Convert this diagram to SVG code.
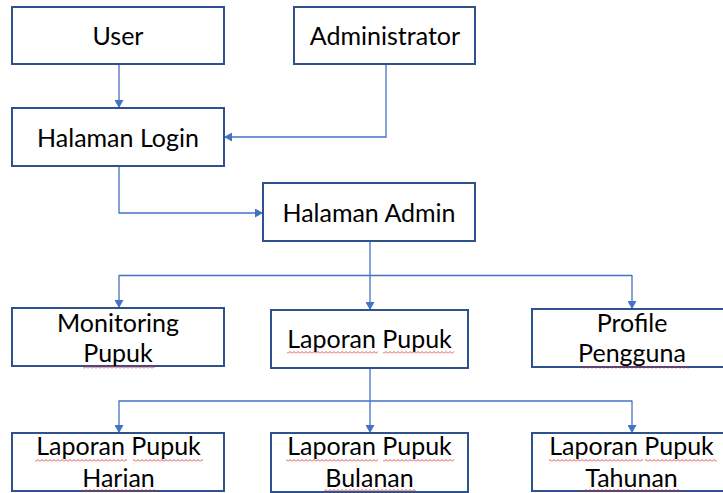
<svg xmlns="http://www.w3.org/2000/svg" width="723" height="493" viewBox="0 0 723 493">
  <style>
    .box { fill: #ffffff; stroke: #2f528f; stroke-width: 2; }
    .lbl { font-family: Lato, "Liberation Sans", sans-serif; font-size: 25px; fill: #000000; text-anchor: middle; }
    .wire { fill: none; stroke: #4472c4; stroke-width: 1.3; }
    .spell { fill: url(#squiggle); }
  </style>
  <defs>
    <marker id="arrow" markerUnits="userSpaceOnUse" markerWidth="8" markerHeight="9" refX="8" refY="4.5" orient="auto">
      <path d="M0,0 L8,4.5 L0,9 z" fill="#4472c4"/>
    </marker>
    <!-- red wavy spell-check underline -->
    <pattern id="squiggle" patternUnits="userSpaceOnUse" width="4" height="3">
      <path d="M0,2.5 L2,0.5 L4,2.5" fill="none" stroke="#e02020" stroke-width="0.8"/>
    </pattern>
  </defs>

  <rect width="723" height="493" fill="#ffffff"/>

  <g id="connectors">
    <path class="wire" d="M119,64 V108" marker-end="url(#arrow)"/>
    <path class="wire" d="M386,64 V137 H224" marker-end="url(#arrow)"/>
    <path class="wire" d="M119,166 V213 H263" marker-end="url(#arrow)"/>
    <!-- Halaman Admin fan-out -->
    <path class="wire" d="M370,241 V310" marker-end="url(#arrow)"/>
    <path class="wire" d="M119,275.5 H632"/>
    <path class="wire" d="M119,275 V308" marker-end="url(#arrow)"/>
    <path class="wire" d="M632,275 V309" marker-end="url(#arrow)"/>
    <!-- Laporan Pupuk fan-out -->
    <path class="wire" d="M370,368 V433" marker-end="url(#arrow)"/>
    <path class="wire" d="M119,401 H632"/>
    <path class="wire" d="M119,400.5 V433" marker-end="url(#arrow)"/>
    <path class="wire" d="M632,400.5 V433" marker-end="url(#arrow)"/>
  </g>

  <g id="user">
    <rect class="box" x="12" y="7" width="212" height="57"/>
    <text class="lbl" x="118" y="45">User</text>
  </g>
  <g id="administrator">
    <rect class="box" x="294" y="7" width="181" height="57"/>
    <text class="lbl" x="385" y="45">Administrator</text>
  </g>
  <g id="halaman-login">
    <rect class="box" x="12" y="108" width="212" height="58"/>
    <text class="lbl" x="118" y="147">Halaman Login</text>
  </g>
  <g id="halaman-admin">
    <rect class="box" x="263" y="183" width="212" height="58"/>
    <text class="lbl" x="369" y="222">Halaman Admin</text>
  </g>
  <g id="monitoring-pupuk">
    <rect class="box" x="12" y="308" width="212" height="58"/>
    <text class="lbl" x="118" y="332">Monitoring</text>
    <text class="lbl" x="118" y="362">Pupuk</text>
    <rect class="spell" x="83" y="366" width="72" height="3"/>
  </g>
  <g id="laporan-pupuk">
    <rect class="box" x="271" y="310" width="197" height="58"/>
    <text class="lbl" x="369.5" y="348">Laporan Pupuk</text>
    <rect class="spell" x="287" y="351" width="91" height="3"/>
    <rect class="spell" x="383" y="351" width="71" height="3"/>
  </g>
  <g id="profile-pengguna">
    <rect class="box" x="532" y="309" width="200" height="58"/>
    <text class="lbl" x="632" y="332">Profile</text>
    <text class="lbl" x="632" y="362">Pengguna</text>
    <rect class="spell" x="580" y="366" width="109" height="3"/>
  </g>
  <g id="laporan-harian">
    <rect class="box" x="12" y="433" width="212" height="58"/>
    <text class="lbl" x="118.5" y="455">Laporan Pupuk</text>
    <text class="lbl" x="118.5" y="487">Harian</text>
    <rect class="spell" x="35" y="459" width="92" height="3"/>
    <rect class="spell" x="133" y="459" width="70" height="3"/>
    <rect class="spell" x="82" y="489" width="73" height="3"/>
  </g>
  <g id="laporan-bulanan">
    <rect class="box" x="271" y="433" width="197" height="59"/>
    <text class="lbl" x="369.5" y="455">Laporan Pupuk</text>
    <text class="lbl" x="369.5" y="487">Bulanan</text>
    <rect class="spell" x="286" y="459" width="92" height="3"/>
    <rect class="spell" x="383" y="459" width="71" height="3"/>
    <rect class="spell" x="324" y="489" width="92" height="3"/>
  </g>
  <g id="laporan-tahunan">
    <rect class="box" x="532" y="433" width="200" height="58"/>
    <text class="lbl" x="631.5" y="455">Laporan Pupuk</text>
    <text class="lbl" x="631.5" y="487">Tahunan</text>
    <rect class="spell" x="549" y="459" width="94" height="3"/>
    <rect class="spell" x="645" y="459" width="72" height="3"/>
    <rect class="spell" x="583" y="489" width="97" height="3"/>
  </g>
</svg>
